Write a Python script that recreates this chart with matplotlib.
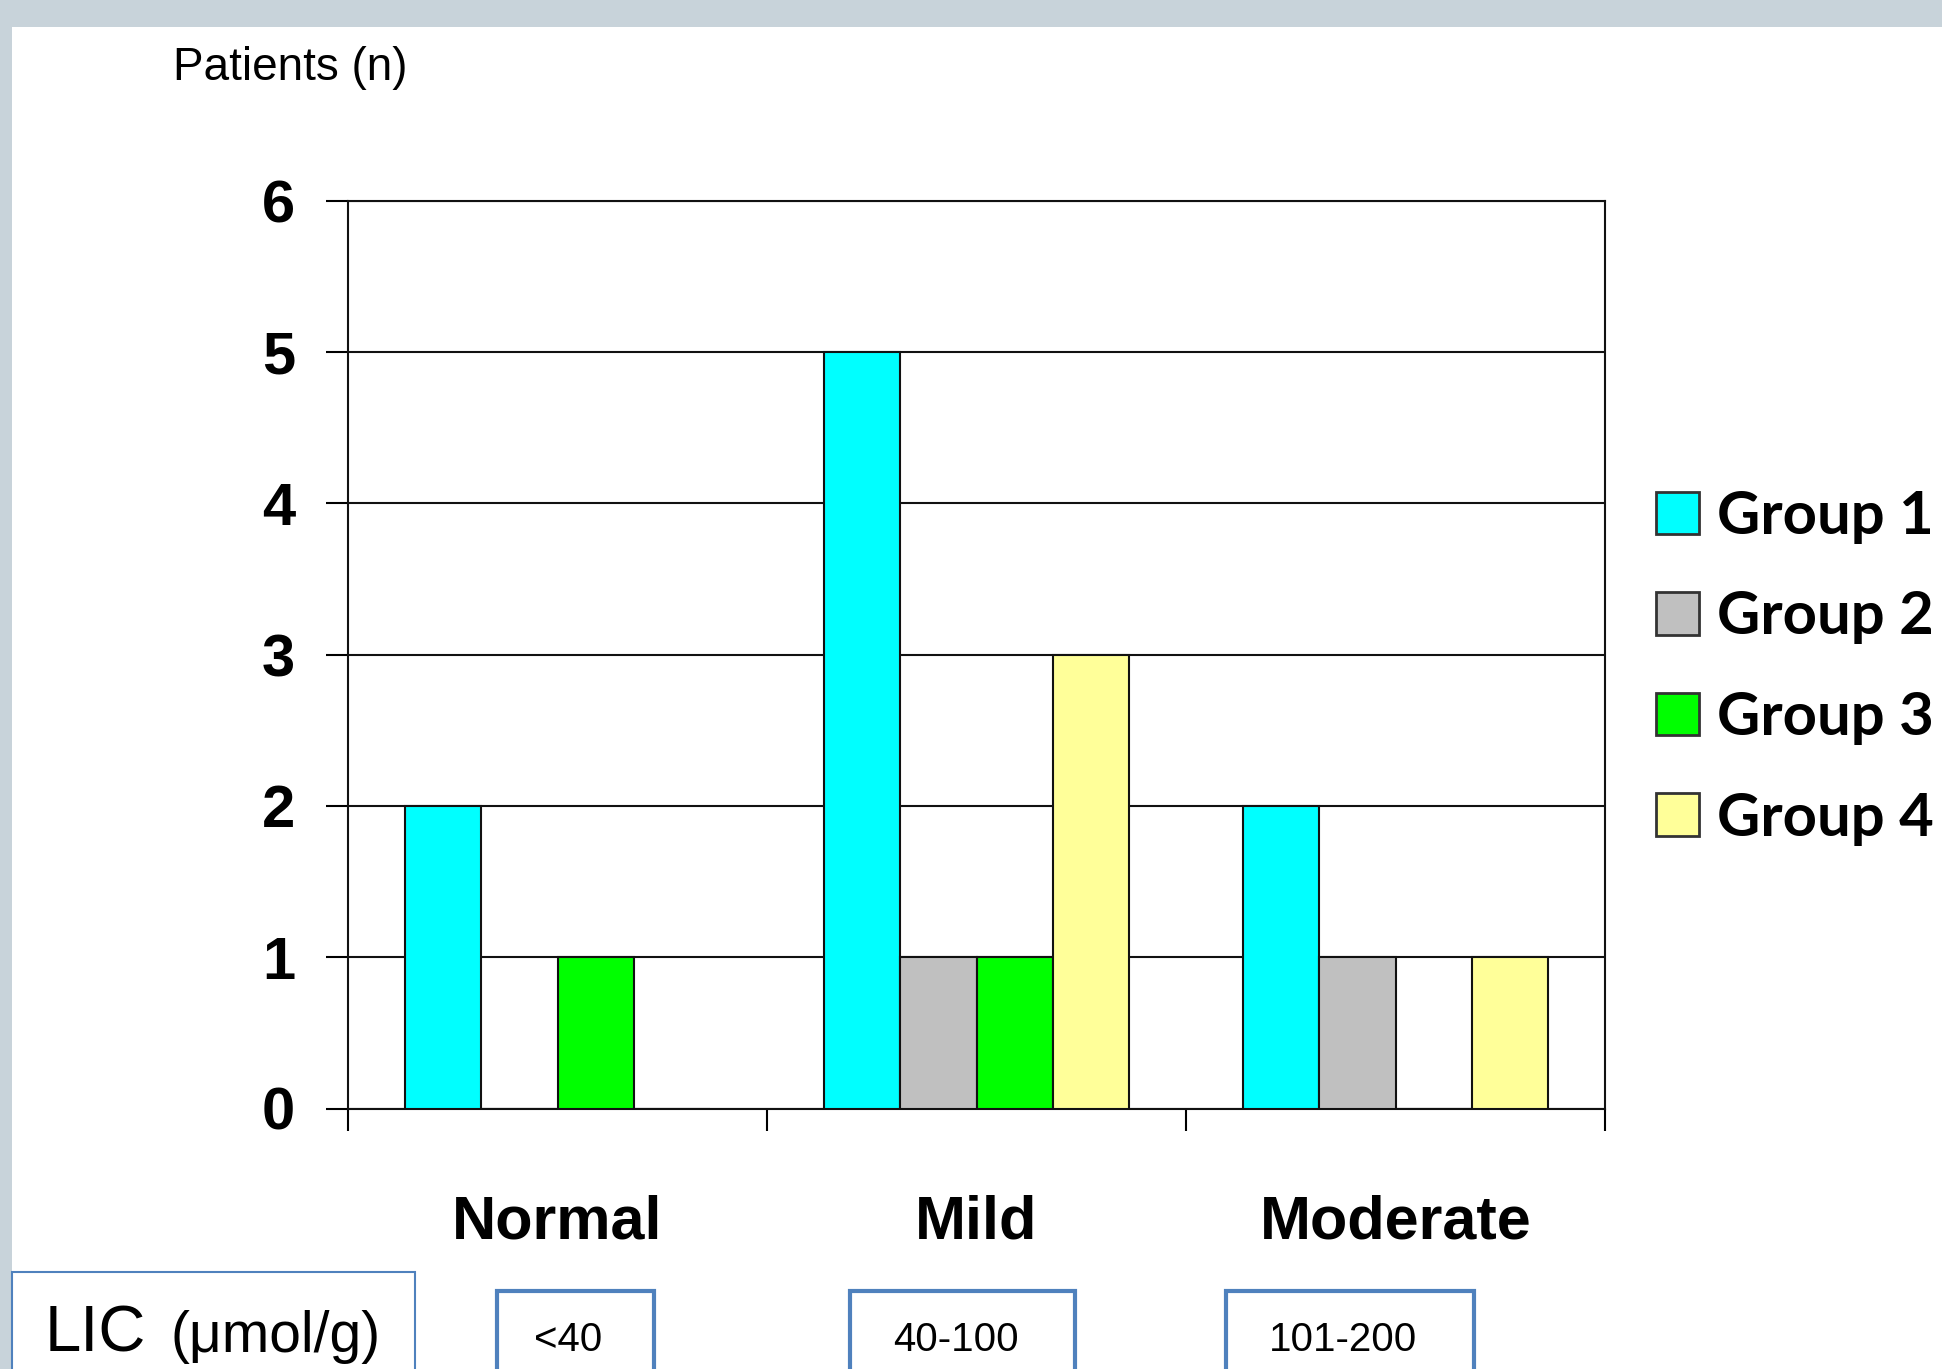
import numpy as np
import matplotlib.pyplot as plt
from matplotlib.patches import Rectangle

categories = ['Normal', 'Mild', 'Moderate']
ranges = ['<40', '40-100', '101-200']
groups = ['Group 1', 'Group 2', 'Group 3', 'Group 4']
group1 = [2, 5, 2]
group2 = [0, 1, 1]
group3 = [1, 1, 0]
group4 = [0, 3, 1]
colors = ['#00FFFF', '#C0C0C0', '#00FF00', '#FFFF99']

sans = ['Liberation Sans', 'DejaVu Sans']

W, H = 1942, 1369
fig = plt.figure(figsize=(W / 100, H / 100), dpi=100)
fig.patch.set_facecolor('white')

# grey frame of the slide
fig.patches.append(Rectangle((0, 1 - 27 / H), 1, 27 / H, transform=fig.transFigure,
                             facecolor='#c8d3da', edgecolor='none'))
fig.patches.append(Rectangle((0, 0), 12 / W, 1, transform=fig.transFigure,
                             facecolor='#c8d3da', edgecolor='none'))

ax = fig.add_axes([348 / W, 260.5 / H, (1605 - 348) / W, (1108.5 - 200.6) / H])

x = np.arange(len(categories))
w = 1 / 5.5
series = [group1, group2, group3, group4]
bars = []
for i, (vals, c, lab) in enumerate(zip(series, colors, groups)):
    b = ax.bar(x + (i - 1.5) * w, vals, w, color=c, edgecolor='#111111',
               linewidth=1.5, label=lab, zorder=3)
    bars.append(b)

ax.set_xlim(-0.5, 2.5)
ax.set_ylim(0, 6)
ax.set_yticks(range(7))
ax.set_yticklabels([str(v) for v in range(7)], fontfamily=sans,
                   fontweight='bold', fontsize=43)
ax.tick_params(axis='y', direction='out', length=16, width=1.5, pad=22)
ax.set_xticks([-0.5, 0.5, 1.5, 2.5])
ax.set_xticklabels([])
ax.tick_params(axis='x', which='major', direction='out', length=16, width=1.5)
ax.set_xticks(x, minor=True)
ax.set_xticklabels(categories, minor=True, fontfamily=sans,
                   fontweight='bold', fontsize=44)
ax.tick_params(axis='x', which='minor', length=0, pad=62)
ax.yaxis.grid(True, color='#111111', linewidth=1.5, zorder=0)
ax.set_axisbelow(True)
for s in ax.spines.values():
    s.set_color('#111111')
    s.set_linewidth(1.5)

fig.text(173 / W, 1 - 68 / H, 'Patients (n)', fontfamily=sans, fontsize=33,
         ha='left', va='center')

leg = fig.legend(handles=bars, labels=groups, loc='upper left',
                 bbox_to_anchor=(1632 / W, 1 - 466 / H), frameon=False,
                 prop={'family': ['Lato', 'DejaVu Sans'], 'weight': 'bold', 'size': 43},
                 handlelength=0.72, handleheight=0.72, handletextpad=0.3,
                 labelspacing=0.78, borderaxespad=0)
for h in leg.legend_handles:
    h.set_linewidth(2)
    h.set_edgecolor('#333333')

# LIC range boxes below the axis
box_blue = '#4f81bd'
fig.patches.append(Rectangle((12 / W, -0.02), (415 - 12) / W, (1369 - 1272) / H + 0.02,
                             transform=fig.transFigure, facecolor='white',
                             edgecolor=box_blue, linewidth=1.5))
fig.text(45 / W, 1 - 1335 / H, 'LIC', fontfamily=sans, fontsize=47,
         ha='left', va='center')
fig.text(170 / W, 1 - 1337 / H, '(μmol/g)', fontfamily=sans, fontsize=41,
         ha='left', va='center')

box_x = [(497, 654), (850, 1075), (1226, 1474)]
for (x0, x1), r in zip(box_x, ranges):
    fig.patches.append(Rectangle((x0 / W, -0.02), (x1 - x0) / W, (1369 - 1291) / H + 0.02,
                                 transform=fig.transFigure, facecolor='white',
                                 edgecolor=box_blue, linewidth=3))
    fig.text((x0 + x1) / 2 / W - 7 / W, 1 - 1340 / H, r, fontfamily=sans, fontsize=29,
             ha='center', va='center')

plt.savefig('out.png', dpi=100)
plt.close()
